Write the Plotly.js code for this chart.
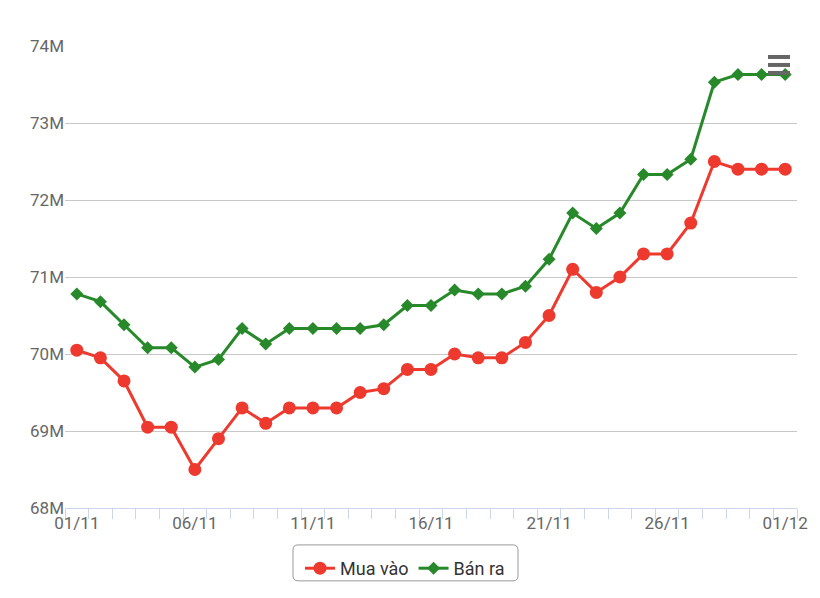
<!DOCTYPE html>
<html>
<head>
<meta charset="utf-8">
<script src="https://cdn.plot.ly/plotly-3.0.1.min.js"></script>
<style>html,body{margin:0;padding:0;background:#fff;}#chart{width:820px;height:598px;}</style>
</head>
<body>
<div id="chart"></div>
<script>
const dates = ["01/11","02/11","03/11","04/11","05/11","06/11","07/11","08/11","09/11","10/11",
  "11/11","12/11","13/11","14/11","15/11","16/11","17/11","18/11","19/11","20/11",
  "21/11","22/11","23/11","24/11","25/11","26/11","27/11","28/11","29/11","30/11","01/12"];
const buyValues = [70.05,69.95,69.65,69.05,69.05,68.5,68.9,69.3,69.1,69.3,
  69.3,69.3,69.5,69.55,69.8,69.8,70.0,69.95,69.95,70.15,
  70.5,71.1,70.8,71.0,71.3,71.3,71.7,72.5,72.4,72.4,72.4];
const sellValues = [70.78,70.68,70.38,70.08,70.08,69.83,69.93,70.33,70.13,70.33,
  70.33,70.33,70.33,70.38,70.63,70.63,70.83,70.78,70.78,70.88,
  71.23,71.83,71.63,71.83,72.33,72.33,72.53,73.53,73.63,73.63,73.63];
const yTicks = [68,69,70,71,72,73,74];
const seriesNames = ["Mua vào","Bán ra"];

const xIdx = dates.map((d,i)=>i);
const labelIdx = xIdx.filter(i=>i%5===0);
const M = 1e6;

const traces = [
  {x:xIdx, y:buyValues.map(v=>v*M), name:seriesNames[0], mode:'lines+markers', type:'scatter',
   line:{color:'#ee3a2e', width:3}, marker:{symbol:'circle', size:13, color:'#ee3a2e'},
   text:dates, hoverinfo:'text+y'},
  {x:xIdx, y:sellValues.map(v=>v*M), name:seriesNames[1], mode:'lines+markers', type:'scatter',
   line:{color:'#27892a', width:3}, marker:{symbol:'diamond', size:10, color:'#27892a'},
   text:dates, hoverinfo:'text+y'}
];

const L=65, R=797, T=46, B=509;
const W=R-L, H=B-T;
function px(x){return (x-L)/W;}
function py(y){return (B-y)/H;}
// rounded legend box
const bx0=px(293), bx1=px(518), by0=py(582), by1=py(546);
const rx=5/W, ry=5/H;
const boxPath = `M ${bx0+rx} ${by1} L ${bx1-rx} ${by1} Q ${bx1} ${by1} ${bx1} ${by1-ry} L ${bx1} ${by0+ry} Q ${bx1} ${by0} ${bx1-rx} ${by0} L ${bx0+rx} ${by0} Q ${bx0} ${by0} ${bx0} ${by0+ry} L ${bx0} ${by1-ry} Q ${bx0} ${by1} ${bx0+rx} ${by1} Z`;

const menuShapes = [57,65,73].map(y=>({type:'line', xref:'paper', yref:'paper',
  x0:px(768), x1:px(790), y0:py(y), y1:py(y), line:{color:'#666666', width:4}}));

const layout = {
  width:820, height:598,
  margin:{l:L, r:820-R, t:T, b:598-B},
  paper_bgcolor:'#ffffff', plot_bgcolor:'#ffffff',
  font:{family:'Roboto, "Liberation Sans", sans-serif', color:'#666666', size:17},
  showlegend:true,
  legend:{orientation:'h', x:px(405), xanchor:'center', y:py(550), yanchor:'top',
    font:{size:18, color:'#333333'}, bgcolor:'rgba(0,0,0,0)', borderwidth:0,
    itemwidth:30},
  xaxis:{range:[-0.5, dates.length-0.5], tickmode:'array', tickvals:labelIdx,
    ticktext:labelIdx.map(i=>dates[i]), ticks:'', showgrid:false, zeroline:false,
    showline:true, linecolor:'#ccd6eb', linewidth:1,
    minor:{tick0:-0.5, dtick:1, ticks:'outside', ticklen:10, tickcolor:'#ccd6eb', tickwidth:1, showgrid:false},
    tickfont:{size:17, color:'#666666'}, fixedrange:true},
  yaxis:{range:[68*M, 74*M], tickmode:'array', tickvals:yTicks.map(v=>v*M),
    ticktext:yTicks.map(v=>v+'M'), showgrid:true, gridcolor:'#c8c8c8', gridwidth:1,
    zeroline:false, showline:false, ticks:'', tickfont:{size:17, color:'#666666'},
    fixedrange:true},
  shapes:[{type:'path', xref:'paper', yref:'paper', path:boxPath, line:{color:'#999999', width:1}, fillcolor:'rgba(0,0,0,0)'}].concat(menuShapes)
};

Plotly.newPlot('chart', traces, layout, {displayModeBar:false, staticPlot:true});
</script>
</body>
</html>
